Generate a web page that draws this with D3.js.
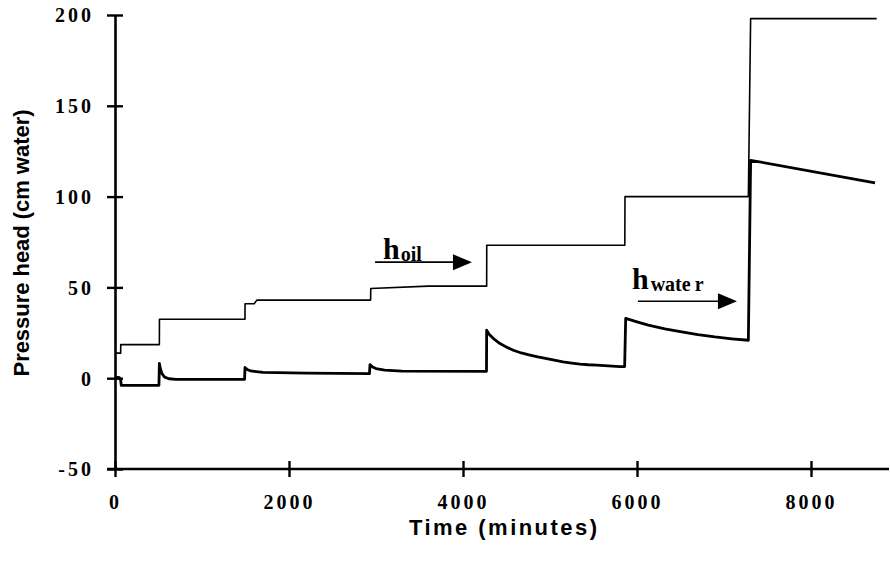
<!DOCTYPE html>
<html>
<head>
<meta charset="utf-8">
<script src="https://cdn.jsdelivr.net/npm/d3@7"></script>
<style>
  html, body { margin: 0; padding: 0; background: #fff; }
  svg { display: block; }
</style>
</head>
<body>
<svg id="chart" width="890" height="563"></svg>
<script>
// ---- data ----
const xTicks = [0, 2000, 4000, 6000, 8000];
const yTicks = [-50, 0, 50, 100, 150, 200];

const oilTime = [0, 65, 66, 510, 511, 1494, 1495, 1600, 1630, 2938, 2940, 3600, 4272, 4273, 5860, 5862, 7280, 7306, 8755];
const oilHead = [13.8, 13.8, 18.5, 18.5, 32.5, 32.5, 41, 41, 43, 43, 49.4, 50.7, 50.7, 73.2, 73.2, 100, 100, 198, 198];

const waterTime = [0, 30, 50, 65, 72, 505, 510, 520, 540, 570, 620, 700, 1490, 1494, 1520, 1560, 1700, 2200, 2925, 2931, 2960, 3000, 3100, 3300, 4270,
  4272, 4300, 4350, 4425, 4500, 4578, 4670, 4770, 4860, 4962, 5050, 5149, 5250, 5345, 5440, 5537, 5670, 5805, 5858,
  5870, 6000, 6130, 6320, 6514, 6700, 6896, 7090, 7280, 7306, 8736];
const waterHead = [-0.2, 0.5, 0.3, -1.0, -3.9, -3.9, 8.1, 5.5, 2.5, 0.6, -0.3, -0.6, -0.6, 5.9, 4.8, 4.0, 3.2, 2.8, 2.5, 7.5, 6.2, 5.3, 4.4, 3.9, 3.8,
  26.4, 24.2, 21.8, 19.1, 17.1, 15.4, 13.9, 12.7, 11.7, 10.8, 9.9, 9.0, 8.3, 7.7, 7.4, 7.2, 6.8, 6.4, 6.4,
  32.9, 31.0, 29.2, 27.2, 25.5, 24.0, 22.7, 21.7, 20.9, 120, 107.6];

const annotations = [
  { main: "h", sub: "oil", textT: 3080, textY: 65.5, arrowFrom: 2989, arrowTo: 4103, arrowY: 63.9 },
  { main: "h", sub: "water", textT: 5942, textY: 49, arrowFrom: 6011, arrowTo: 7149, arrowY: 42.4 }
];

const xTitle = "Time (minutes)";
const yTitle = "Pressure head (cm water)";

// ---- chart ----
const svg = d3.select("#chart");
svg.append("rect").attr("width", 890).attr("height", 563).attr("fill", "#fff");

const x = d3.scaleLinear().domain([0, 8000]).range([115, 811]);
const y = d3.scaleLinear().domain([-50, 200]).range([469, 15]);

const tickFont = "'Liberation Serif', 'Times New Roman', serif";
const titleFont = "'Liberation Sans', Arial, sans-serif";
const fmt = d => String(d);

// y axis
const yAxis = svg.append("g").attr("transform", `translate(${x(0)},0)`)
  .call(d3.axisLeft(y).tickValues(yTicks).tickFormat(fmt).tickSizeOuter(0).tickSizeInner(8).tickPadding(13));
yAxis.select(".domain").attr("stroke", "#000").attr("stroke-width", 2.6);
yAxis.selectAll(".tick line").attr("x1", -8).attr("x2", 8).attr("stroke", "#000").attr("stroke-width", 2.4);
yAxis.selectAll(".tick text")
  .attr("font-family", tickFont).attr("font-weight", "bold").attr("font-size", 20)
  .attr("letter-spacing", "3px").attr("fill", "#000").attr("dy", "0.34em");

// x axis
const xAxis = svg.append("g").attr("transform", `translate(0,${y(-50)})`)
  .call(d3.axisBottom(x).tickValues(xTicks).tickFormat(fmt).tickSizeOuter(0).tickSizeInner(8).tickPadding(18));
xAxis.select(".domain").remove();
xAxis.append("line").attr("x1", x(0) - 8).attr("x2", 889).attr("y1", 0).attr("y2", 0)
  .attr("stroke", "#000").attr("stroke-width", 2.6);
xAxis.selectAll(".tick line").attr("y1", -8).attr("y2", 8).attr("stroke", "#000").attr("stroke-width", 2.4);
xAxis.selectAll(".tick text")
  .attr("font-family", tickFont).attr("font-weight", "bold").attr("font-size", 20)
  .attr("letter-spacing", "3px").attr("fill", "#000");

// titles
svg.append("text").attr("x", 503).attr("y", 535).attr("text-anchor", "middle")
  .attr("font-family", titleFont).attr("font-weight", "bold").attr("font-size", 22)
  .attr("textLength", 188).attr("lengthAdjust", "spacing")
  .text(xTitle);
svg.append("text").attr("transform", `translate(29,243) rotate(-90)`).attr("text-anchor", "middle")
  .attr("font-family", titleFont).attr("font-weight", "bold").attr("font-size", 22)
  .attr("textLength", 267).attr("lengthAdjust", "spacing")
  .text(yTitle);

// lines
const line = d3.line().x(d => x(d[0])).y(d => y(d[1]));
const oilData = oilTime.map((t, i) => [t, oilHead[i]]);
const waterData = waterTime.map((t, i) => [t, waterHead[i]]);

svg.append("path").datum(oilData).attr("d", line)
  .attr("fill", "none").attr("stroke", "#000").attr("stroke-width", 1.6).attr("stroke-linejoin", "round");
svg.append("path").datum(waterData).attr("d", line)
  .attr("fill", "none").attr("stroke", "#000").attr("stroke-width", 2.8).attr("stroke-linejoin", "round");

// annotations
annotations.forEach(a => {
  const tail = x(a.arrowTo) - 19;
  svg.append("line").attr("x1", x(a.arrowFrom)).attr("x2", tail)
    .attr("y1", y(a.arrowY)).attr("y2", y(a.arrowY))
    .attr("stroke", "#000").attr("stroke-width", 1.6);
  svg.append("path")
    .attr("d", `M${tail},${y(a.arrowY) - 8} L${x(a.arrowTo)},${y(a.arrowY)} L${tail},${y(a.arrowY) + 8} Z`)
    .attr("fill", "#000");
  const t = svg.append("text").attr("x", x(a.textT)).attr("y", y(a.textY))
    .attr("font-family", tickFont).attr("font-weight", "bold").attr("fill", "#000");
  t.append("tspan").attr("font-size", 30).text(a.main);
  if (a.sub === "water") {
    t.append("tspan").attr("font-size", 20).attr("dx", 2).attr("dy", 2).text("wate");
    t.append("tspan").attr("font-size", 20).attr("dx", 4).text("r");
  } else {
    t.append("tspan").attr("font-size", 20).attr("dx", 1).attr("dy", 2).text(a.sub);
  }
});
</script>
</body>
</html>
